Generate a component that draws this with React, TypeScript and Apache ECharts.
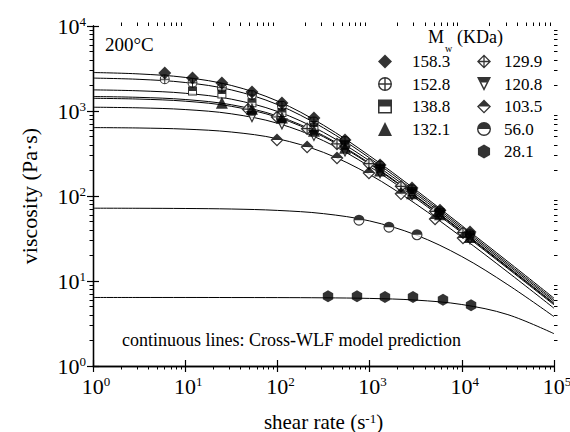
import React, { useEffect, useRef } from 'react';
import * as echarts from 'echarts';

// ---------- data ----------
const seriesNames = ['158.3', '152.8', '138.8', '132.1', '129.9', '120.8', '103.5', '56.0', '28.1'];

// Cross-WLF model prediction curves (continuous lines), sampled at half decades
const curveShear = [1, 3.16, 10, 31.6, 100, 316, 1000, 3162, 10000, 31623, 100000];
const curve158_3 = [2835, 2730, 2484, 2000, 1311, 681, 297, 118, 44.9, 16.9, 6.28];
const curve152_8 = [2439, 2358, 2165, 1773, 1192, 633, 280, 112, 42.8, 16.1, 6.0];
const curve138_8 = [1772, 1727, 1617, 1379, 988, 561, 259, 106, 40.8, 15.4, 5.75];
const curve132_1 = [1480, 1447, 1365, 1185, 874, 513, 243, 100, 38.9, 14.7, 5.49];
const curve129_9 = [1411, 1381, 1305, 1136, 844, 498, 237, 98.3, 38.1, 14.4, 5.39];
const curve120_8 = [1108, 1089, 1040, 927, 718, 447, 222, 94.0, 36.9, 14.0, 5.24];
const curve103_5 = [638, 631, 612, 566, 472, 326, 179, 80.8, 32.8, 12.7, 4.78];
const curve56_0 = [71.9, 71.7, 71.3, 70.3, 67.7, 62.0, 50.9, 34.9, 19.4, 9.03, 3.81];
const curve28_1 = [6.4, 6.4, 6.4, 6.39, 6.38, 6.34, 6.24, 5.96, 5.29, 4.02, 2.4];

// measured points
const shear158_3 = [6, 12, 25, 53, 112, 249, 541, 1298, 2884, 5800, 12270];
const eta158_3 = [2800, 2445, 2135, 1674, 1243, 828, 456, 232, 124, 68, 37.7];
const shear152_8 = [6, 12, 25, 53, 112, 249, 541, 1298, 2884, 5800, 12270];
const eta152_8 = [2360, 2150, 1880, 1540, 1150, 750, 445, 228, 120, 66, 35.5];
const shear138_8 = [12, 25, 53, 112, 249, 541, 1298, 2884, 5800, 12270];
const eta138_8 = [1720, 1590, 1250, 960, 650, 400, 212, 113, 64, 34.5];
const shear132_1 = [25, 53, 112, 249, 541, 1298, 2884, 5800, 12270];
const eta132_1 = [1250, 1060, 840, 585, 370, 200, 108, 61, 33];
const shear129_9 = [48, 99, 210, 443, 984, 2190, 5130, 10300];
const eta129_9 = [1050, 850, 620, 410, 240, 130, 66, 37];
const shear120_8 = [53, 112, 249, 541, 1298, 2884, 5800, 12270];
const eta120_8 = [850, 700, 510, 335, 186, 102, 58, 31];
const shear103_5 = [99, 210, 443, 984, 2190, 5130, 10300];
const eta103_5 = [456, 377, 280, 187, 106, 53.6, 32];
const shear56_0 = [767, 1622, 3266];
const eta56_0 = [52, 43, 35];
const shear28_1 = [354, 730, 1468, 2955, 6250, 12600];
const eta28_1 = [6.6, 6.6, 6.5, 6.5, 6.0, 5.2];

// axis ticks
const xRange = [1, 100000];
const yRange = [1, 10000];
const xDecades = [1, 10, 100, 1000, 10000];
const yDecades = [1, 10, 100, 1000];
const minorMultipliers = [2, 3, 4, 5, 6, 7, 8, 9];

// ---------- styles ----------
const FONT = 'Liberation Serif, Times New Roman, serif';

const SYM = {
  circlePlus:
    'path://M10,0 A10,10 0 1,1 10,20 A10,10 0 1,1 10,0 Z M10,2 A8,8 0 1,0 10,18 A8,8 0 1,0 10,2 Z M2,9 L18,9 L18,11 L2,11 Z M9,2 L11,2 L11,18 L9,18 Z',
  squareHalf: 'path://M0,0 L20,0 L20,20 L0,20 Z M2.2,2.2 L2.2,17.8 L17.8,17.8 L17.8,2.2 Z M2.2,2.2 L17.8,2.2 L17.8,10 L2.2,10 Z',
  diamondCross:
    'path://M10,0 L20,10 L10,20 L0,10 Z M10,2.6 L2.6,10 L10,17.4 L17.4,10 Z M2.6,9.1 L17.4,9.1 L17.4,10.9 L2.6,10.9 Z M9.1,2.6 L10.9,2.6 L10.9,17.4 L9.1,17.4 Z',
  triDownHalf: 'path://M0,0 L20,0 L10,20 Z M3.24,2 L10,15.52 L16.76,2 Z M3.24,2 L16.76,2 L13.76,8 L6.24,8 Z',
  diamondHalf: 'path://M10,0 L20,10 L10,20 L0,10 Z M10,2.6 L2.6,10 L10,17.4 L17.4,10 Z M10,0 L20,10 L0,10 Z',
  circleHalf:
    'path://M10,0 A10,10 0 1,1 10,20 A10,10 0 1,1 10,0 Z M10,2 A8,8 0 1,0 10,18 A8,8 0 1,0 10,2 Z M0,10 A10,10 0 0,1 20,10 Z',
  hexagon: 'path://M10,0 L18.66,5 L18.66,15 L10,20 L1.34,15 L1.34,5 Z',
  triDown: 'path://M0,0 L20,0 L10,20 Z',
};

const groups = [
  { name: seriesNames[0], shear: shear158_3, eta: eta158_3, curve: curve158_3, symbol: 'diamond', size: 13, bg: '' },
  { name: seriesNames[1], shear: shear152_8, eta: eta152_8, curve: curve152_8, symbol: SYM.circlePlus, size: 10, bg: 'circle' },
  { name: seriesNames[2], shear: shear138_8, eta: eta138_8, curve: curve138_8, symbol: SYM.squareHalf, size: 9, bg: 'rect' },
  { name: seriesNames[3], shear: shear132_1, eta: eta132_1, curve: curve132_1, symbol: 'triangle', size: 12, bg: '' },
  { name: seriesNames[4], shear: shear129_9, eta: eta129_9, curve: curve129_9, symbol: SYM.diamondCross, size: 13, bg: 'diamond' },
  { name: seriesNames[5], shear: shear120_8, eta: eta120_8, curve: curve120_8, symbol: SYM.triDownHalf, size: 12, bg: SYM.triDown },
  { name: seriesNames[6], shear: shear103_5, eta: eta103_5, curve: curve103_5, symbol: SYM.diamondHalf, size: 13, bg: 'diamond' },
  { name: seriesNames[7], shear: shear56_0, eta: eta56_0, curve: curve56_0, symbol: SYM.circleHalf, size: 11, bg: 'circle' },
  { name: seriesNames[8], shear: shear28_1, eta: eta28_1, curve: curve28_1, symbol: SYM.hexagon, size: 12, bg: '' },
];

const powLabel = (v: number) => `{b|10}{s|${Math.round(Math.log10(v))}}`;
const labelRich = {
  b: { fontSize: 22, fontFamily: FONT, color: '#000', lineHeight: 22, padding: [6, 0, 6, 6], verticalAlign: 'middle' },
  s: { fontSize: 13, fontFamily: FONT, color: '#000', lineHeight: 13, verticalAlign: 'top' },
};

const axisLine = { show: true, lineStyle: { color: '#000', width: 1.3 } };
const axisTick = { show: true, inside: false, length: 6, lineStyle: { color: '#000', width: 1.2 } };

// minor log ticks (2..9 of each decade), placed on helper value axes spanning the decades
const minorXPos = xDecades.flatMap((d) => minorMultipliers.map((m) => Math.log10(d * m)));
const minorYPos = yDecades.flatMap((d) => minorMultipliers.map((m) => Math.log10(d * m)));

const baseGraphic = [
  { id: 't-temp', type: 'text', x: 105, y: 44, style: { text: '200°C', fontSize: 19, fontFamily: FONT, fill: '#000', verticalAlign: 'middle' } },
  {
    id: 't-note',
    type: 'text',
    x: 122,
    y: 340,
    style: { text: 'continuous lines: Cross-WLF model prediction', fontSize: 18, fontFamily: FONT, fill: '#000', verticalAlign: 'middle' },
  },
  { id: 't-m', type: 'text', x: 428, y: 37, style: { text: 'M', fontSize: 18, lineHeight: 14, fontFamily: FONT, fill: '#000', verticalAlign: 'middle' } },
  { id: 't-w', type: 'text', x: 445, y: 48, style: { text: 'w', fontSize: 10, lineHeight: 7, fontFamily: FONT, fill: '#000', verticalAlign: 'middle' } },
  { id: 't-kda', type: 'text', x: 457, y: 37, style: { text: '(KDa)', fontSize: 18, lineHeight: 14, fontFamily: FONT, fill: '#000', verticalAlign: 'middle' } },
];

function buildOption() {
  const lineSeries = groups.map((g) => ({
    type: 'line',
    name: 'fit ' + g.name,
    data: curveShear.map((x, i) => [x, g.curve[i]]),
    smooth: 0.35,
    symbol: 'none',
    showSymbol: false,
    lineStyle: { color: '#000', width: 1 },
    itemStyle: { color: '#000' },
    z: 2,
    silent: true,
  }));
  const bgSeries = groups
    .filter((g) => g.bg)
    .map((g) => ({
      type: 'scatter',
      name: 'bg ' + g.name,
      data: g.shear.map((x, i) => [x, g.eta[i]]),
      symbol: g.bg,
      symbolSize: g.size,
      symbolKeepAspect: true,
      itemStyle: { color: '#fff' },
      z: 3,
      silent: true,
    }));
  const markerSeries = groups
    .slice()
    .reverse()
    .map((g) => ({
      type: 'scatter',
      name: g.name,
      data: g.shear.map((x, i) => [x, g.eta[i]]),
      symbol: g.symbol,
      symbolSize: g.size,
      symbolKeepAspect: true,
      itemStyle: { color: '#000' },
      z: 4,
    }));

  const legendText = (pad: number) => ({
    fontFamily: FONT,
    fontSize: 17,
    color: '#000',
    lineHeight: 14,
    padding: [0, 0, 0, pad],
  });

  const logAxis = (range: number[], split: number) => ({
    type: 'log',
    logBase: 10,
    min: range[0],
    max: range[1],
    splitNumber: split,
    axisLine,
    axisTick,
    splitLine: { show: false },
  });

  const minorAxis = (range: number[], position: string, values: number[]) => ({
    type: 'value',
    min: Math.log10(range[0]),
    max: Math.log10(range[1]),
    position,
    axisLine: { show: false },
    axisLabel: { show: false },
    splitLine: { show: false },
    axisTick: { show: true, inside: false, length: 3.5, customValues: values, lineStyle: { color: '#000', width: 1 } },
  });

  return {
    animation: false,
    backgroundColor: '#fff',
    textStyle: { fontFamily: FONT, color: '#000' },
    grid: { left: 93, right: 16, top: 26, bottom: 66, containLabel: false, outerBoundsMode: 'none' },
    xAxis: [
      {
        ...logAxis(xRange, 5),
        axisLabel: { margin: 9, formatter: powLabel, rich: labelRich },
        name: '{a|shear rate (s}{s|-1}{a|)}',
        nameLocation: 'middle',
        nameGap: 46,
        nameTextStyle: {
          rich: {
            a: { fontSize: 21, fontFamily: FONT, color: '#000', lineHeight: 20, verticalAlign: 'bottom' },
            s: { fontSize: 13, fontFamily: FONT, color: '#000', lineHeight: 13, verticalAlign: 'top' },
          },
        },
      },
      { ...logAxis(xRange, 5), position: 'top', axisLabel: { show: false } },
      minorAxis(xRange, 'bottom', minorXPos),
      minorAxis(xRange, 'top', minorXPos),
    ],
    yAxis: [
      {
        ...logAxis(yRange, 4),
        axisLabel: { margin: 7, formatter: powLabel, rich: labelRich },
        name: 'viscosity (Pa·s)',
        nameLocation: 'middle',
        nameGap: 52,
        nameTextStyle: { fontSize: 22, fontFamily: FONT, color: '#000' },
      },
      { ...logAxis(yRange, 4), position: 'right', axisLabel: { show: false } },
      minorAxis(yRange, 'left', minorYPos),
      minorAxis(yRange, 'right', minorYPos),
    ],
    legend: [
      {
        data: seriesNames.slice(0, 4),
        orient: 'vertical',
        left: 378,
        top: 53,
        padding: 0,
        itemWidth: 14,
        itemHeight: 14,
        itemGap: 5.5,
        selectedMode: false,
        textStyle: legendText(15),
      },
      {
        data: seriesNames.slice(4),
        orient: 'vertical',
        left: 477,
        top: 53,
        padding: 0,
        itemWidth: 14,
        itemHeight: 14,
        itemGap: 5.5,
        selectedMode: false,
        textStyle: legendText(8),
      },
    ],
    graphic: baseGraphic,
    series: [...lineSeries, ...bgSeries, ...markerSeries],
  };
}

export default function App() {
  const ref = useRef<HTMLDivElement>(null);
  useEffect(() => {
    document.body.style.margin = '0';
    const chart = echarts.init(ref.current as HTMLDivElement, null, { renderer: 'svg' });
    chart.setOption(buildOption() as any);
    return () => chart.dispose();
  }, []);
  return <div ref={ref} style={{ width: 570, height: 432 }} />;
}
